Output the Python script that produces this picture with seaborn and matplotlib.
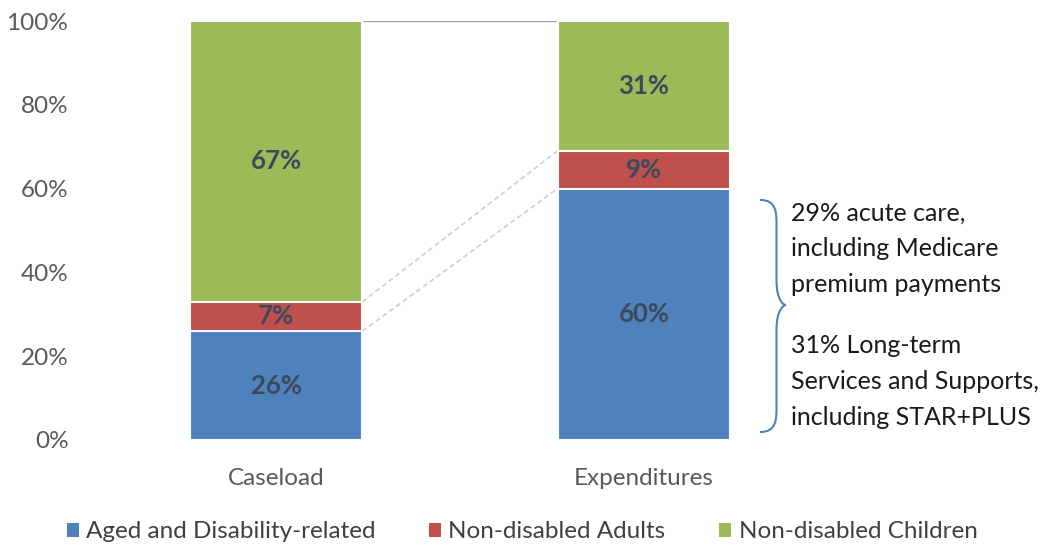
import matplotlib
matplotlib.use("Agg")
import matplotlib.pyplot as plt
import seaborn as sns
import numpy as np
import pandas as pd
from matplotlib.path import Path
from matplotlib.patches import PathPatch, Patch

categories = ["Caseload", "Expenditures"]
series_names = ["Aged and Disability-related", "Non-disabled Adults", "Non-disabled Children"]
aged = [26, 60]
adults = [7, 9]
children = [67, 31]
yticks = [0, 20, 40, 60, 80, 100]
note_top = "29% acute care,\nincluding Medicare\npremium payments"
note_bottom = "31% Long-term\nServices and Supports,\nincluding STAR+PLUS"

colors = ["#4F81BD", "#C0504D", "#9BBB59"]

sns.set_theme(style="white")
plt.rcParams["font.family"] = ["Lato", "DejaVu Sans"]

fig = plt.figure(figsize=(10.44, 5.59), dpi=100)
ax = fig.add_axes([92 / 1044, (559 - 440) / 559, 736 / 1044, 419 / 559])

series = [aged, adults, children]
cum = np.cumsum(np.array(series), axis=0)
bw = 0.47
for i in range(2, -1, -1):
    df = pd.DataFrame({"cat": categories, "val": cum[i]})
    sns.barplot(data=df, x="cat", y="val", color=colors[i], width=bw,
                edgecolor="white", linewidth=1.5, saturation=1, ax=ax, zorder=2)

for i in range(3):
    for j in range(2):
        bottom = cum[i][j] - series[i][j]
        ax.text(j, bottom + series[i][j] / 2, f"{series[i][j]}%", ha="center", va="center",
                fontsize=18.5, fontweight="bold", color="#3B4A5A", zorder=5)

x0 = bw / 2
x1 = 1 - bw / 2
ax.plot([x0, x1], [100, 100], color="#A0A0A0", lw=1.0, zorder=1)
for i in range(2):
    ax.plot([x0, x1], [cum[i][0], cum[i][1]], color="#CFCFCF", lw=1.2,
            ls=(0, (3, 2)), zorder=1)

ax.set_xlim(-0.5, 1.5)
ax.set_ylim(0, 100)
ax.set_yticks(yticks)
ax.set_yticklabels([f"{v}%" for v in yticks], fontsize=17.5, color="#595959")
ax.tick_params(axis="x", labelsize=17.5, labelcolor="#595959", pad=20, length=0)
ax.tick_params(axis="y", length=0, pad=17)
ax.set_xlabel("")
ax.set_ylabel("")
for s in ax.spines.values():
    s.set_visible(False)

# curly brace
bx = 1.335
btip = 1.385
y0, y1, ym = 1.9, 57.3, 32.2
dx = btip - bx
verts = [
    (bx - 0.02, y0), (bx + dx * 0.5, y0), (bx + dx * 0.5, y0 + 3), (bx + dx * 0.5, y0 + 6),
    (bx + dx * 0.5, ym - 6),
    (bx + dx * 0.5, ym - 1), (btip - 0.005, ym), (btip, ym),
    (btip - 0.005, ym), (bx + dx * 0.5, ym + 1), (bx + dx * 0.5, ym + 6),
    (bx + dx * 0.5, y1 - 6),
    (bx + dx * 0.5, y1 - 3), (bx + dx * 0.5, y1), (bx - 0.02, y1),
]
codes = [Path.MOVETO, Path.CURVE4, Path.CURVE4, Path.CURVE4,
         Path.LINETO,
         Path.CURVE4, Path.CURVE4, Path.CURVE4,
         Path.CURVE4, Path.CURVE4, Path.CURVE4,
         Path.LINETO,
         Path.CURVE4, Path.CURVE4, Path.CURVE4]
ax.add_patch(PathPatch(Path(verts, codes), fill=False, edgecolor="#4F81BD", lw=1.5,
                       clip_on=False, zorder=3))

ax.text(1.4, 57.0, note_top, ha="left", va="top", fontsize=18, color="#1A1A1A",
        linespacing=1.68, clip_on=False)
ax.text(1.4, 25.3, note_bottom, ha="left", va="top", fontsize=18, color="#1A1A1A",
        linespacing=1.68, clip_on=False)

handles = [Patch(facecolor=c, edgecolor="none") for c in colors]
fig.legend(handles, series_names, loc="center", bbox_to_anchor=(0.5, 1 - 532 / 559),
           ncol=3, frameon=False, fontsize=17.5, labelcolor="#404040",
           handlelength=0.5, handleheight=0.5, handletextpad=0.3, columnspacing=2.2)

fig.savefig("out.png", dpi=100)
